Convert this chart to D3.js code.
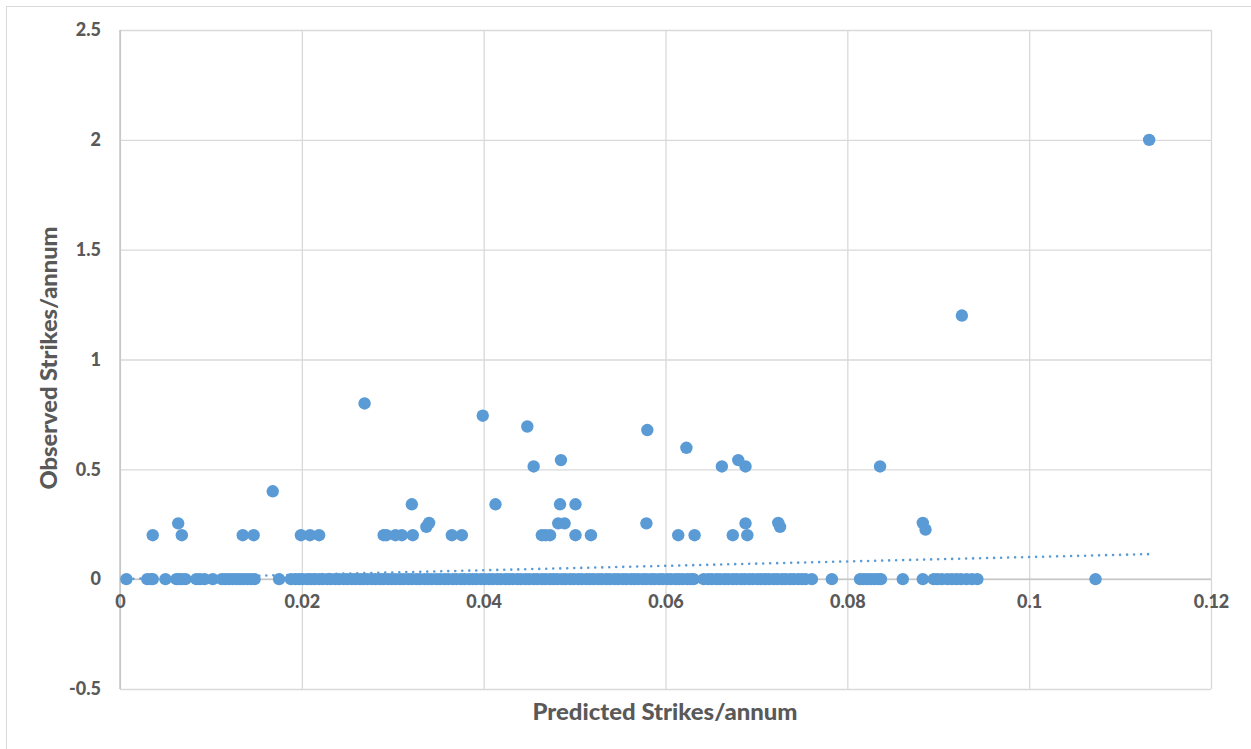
<!DOCTYPE html>
<html>
<head>
<meta charset="utf-8">
<script src="https://cdn.jsdelivr.net/npm/d3@7"></script>
<style>
  html, body { margin: 0; padding: 0; background: #ffffff; }
  svg { display: block; }
  text { font-family: Lato, "Open Sans", sans-serif; font-weight: bold; fill: #595959; }
</style>
</head>
<body>
<svg id="chart" width="1251" height="749"></svg>
<script>
// ---- Data ----
// Points with a non-zero observed value
const predictedNonZero = [
  0.0036, 0.0064, 0.0068, 0.0135, 0.0147, 0.0168, 0.0199, 0.0209, 0.0219,
  0.0269, 0.0290, 0.0293, 0.0303, 0.0310, 0.0322, 0.0321, 0.0337, 0.0340,
  0.0365, 0.0376, 0.0399, 0.0413, 0.0448, 0.0455, 0.0464, 0.0468, 0.0473,
  0.0482, 0.0484, 0.0485, 0.0489, 0.0501, 0.0501, 0.0518, 0.0579, 0.0580,
  0.0614, 0.0623, 0.0632, 0.0662, 0.0674, 0.0680, 0.0688, 0.0688, 0.0690,
  0.0724, 0.0726, 0.0836, 0.0883, 0.0886, 0.0926, 0.1132
];
const observedNonZero = [
  0.20, 0.254, 0.20, 0.20, 0.20, 0.40, 0.20, 0.20, 0.20,
  0.80, 0.20, 0.20, 0.20, 0.20, 0.20, 0.341, 0.238, 0.256,
  0.20, 0.20, 0.744, 0.341, 0.695, 0.513, 0.20, 0.20, 0.20,
  0.254, 0.341, 0.542, 0.254, 0.341, 0.20, 0.20, 0.254, 0.679,
  0.20, 0.598, 0.20, 0.513, 0.20, 0.542, 0.513, 0.254, 0.20,
  0.256, 0.238, 0.513, 0.256, 0.226, 1.20, 2.00
];
// Predicted values of the points whose observed value is 0
const predictedZero = [
  0.0007, 0.0030, 0.0034, 0.0036, 0.0050, 0.0062, 0.0065, 0.0068, 0.0072,
  0.0084, 0.0088, 0.0093, 0.0102, 0.0112, 0.0116, 0.0120, 0.0124, 0.0128,
  0.0132, 0.0136, 0.0140, 0.0144, 0.0148, 0.0175,
  0.0188, 0.0193, 0.0197, 0.0201, 0.0206, 0.0210, 0.0214, 0.0219, 0.0223,
  0.0228, 0.0232, 0.0237, 0.0241, 0.0246, 0.0250, 0.0255, 0.0259, 0.0264,
  0.0268, 0.0272, 0.0277, 0.0281, 0.0286, 0.0290, 0.0295, 0.0299, 0.0303,
  0.0308, 0.0312, 0.0317, 0.0321, 0.0326, 0.0330, 0.0335, 0.0339, 0.0343,
  0.0348, 0.0352, 0.0357, 0.0361, 0.0366, 0.0370, 0.0375, 0.0379, 0.0384,
  0.0388, 0.0392, 0.0397, 0.0401, 0.0406, 0.0410, 0.0415, 0.0419, 0.0424,
  0.0428, 0.0432, 0.0437, 0.0441, 0.0446, 0.0450, 0.0455, 0.0459, 0.0464,
  0.0468, 0.0473, 0.0477, 0.0481, 0.0486, 0.0490, 0.0495, 0.0499, 0.0504,
  0.0508, 0.0513, 0.0517, 0.0521, 0.0526, 0.0530, 0.0535, 0.0539, 0.0544,
  0.0548, 0.0553, 0.0557, 0.0562, 0.0566, 0.0570, 0.0575, 0.0579, 0.0584,
  0.0588, 0.0593, 0.0597, 0.0602, 0.0606, 0.0611, 0.0615, 0.0619, 0.0624,
  0.0628, 0.0631,
  0.0642, 0.0647, 0.0651, 0.0656, 0.0660, 0.0665, 0.0669, 0.0674, 0.0678,
  0.0683, 0.0687, 0.0692, 0.0696, 0.0701, 0.0705, 0.0710, 0.0714, 0.0719,
  0.0723, 0.0728, 0.0732, 0.0737, 0.0741, 0.0746, 0.0750, 0.0754,
  0.0761, 0.0783,
  0.0814, 0.0818, 0.0822, 0.0826, 0.0830, 0.0834, 0.0837,
  0.0861, 0.0883, 0.0895, 0.0899, 0.0904, 0.0910, 0.0915, 0.0920, 0.0925,
  0.0931, 0.0937, 0.0943, 0.1073
];
// Linear trendline
const trendX = [0.0007, 0.1132];
const trendY = [0.0012, 0.1140];

const xTicks = [0, 0.02, 0.04, 0.06, 0.08, 0.1, 0.12];
const xTickLabels = ["0", "0.02", "0.04", "0.06", "0.08", "0.1", "0.12"];
const yTicks = [-0.5, 0, 0.5, 1, 1.5, 2, 2.5];
const yTickLabels = ["-0.5", "0", "0.5", "1", "1.5", "2", "2.5"];
const xTitle = "Predicted Strikes/annum";
const yTitle = "Observed Strikes/annum";

// ---- Layout ----
const plot = { left: 120, right: 1211, top: 30, bottom: 689 };
const color = "#5b9bd5";
const gridColor = "#d9d9d9";
const textColor = "#595959";

const svg = d3.select("#chart");

// outer chart border
svg.append("rect")
  .attr("x", 6.5).attr("y", 6.5)
  .attr("width", 1260).attr("height", 760)
  .attr("fill", "none").attr("stroke", "#d9d9d9").attr("stroke-width", 1);

const x = d3.scaleLinear().domain([0, 0.12]).range([plot.left, plot.right]);
const y = d3.scaleLinear().domain([-0.5, 2.5]).range([plot.bottom, plot.top]);

// gridlines (vertical)
const gx = svg.append("g")
  .attr("transform", `translate(0,${plot.bottom})`)
  .call(d3.axisBottom(x).tickValues(xTicks).tickSize(-(plot.bottom - plot.top)).tickFormat(""));
gx.select(".domain").remove();
gx.selectAll("line").attr("stroke", gridColor).attr("stroke-width", 1.3);

// gridlines (horizontal)
const gy = svg.append("g")
  .attr("transform", `translate(${plot.left},0)`)
  .call(d3.axisLeft(y).tickValues(yTicks).tickSize(-(plot.right - plot.left)).tickFormat(""));
gy.select(".domain").remove();
gy.selectAll("line").attr("stroke", gridColor).attr("stroke-width", 1.3);

// axis lines (crossing at 0)
svg.append("line")
  .attr("x1", x(0)).attr("x2", x(0)).attr("y1", plot.top).attr("y2", plot.bottom)
  .attr("stroke", "#bfbfbf").attr("stroke-width", 1.3);
svg.append("line")
  .attr("x1", plot.left).attr("x2", plot.right).attr("y1", y(0)).attr("y2", y(0))
  .attr("stroke", "#bfbfbf").attr("stroke-width", 1.3);

// y tick labels
const yLab = svg.append("g")
  .attr("transform", `translate(${plot.left - 16},0)`)
  .call(d3.axisLeft(y).tickValues(yTicks).tickSize(0)
        .tickFormat((d) => yTickLabels[yTicks.indexOf(d)]));
yLab.select(".domain").remove();
yLab.selectAll("text")
  .style("font-family", "Lato, 'Open Sans', sans-serif")
  .style("font-weight", "900").style("font-size", "18px").attr("fill", textColor);

// x tick labels (below the horizontal axis at y=0)
const xLab = svg.append("g")
  .attr("transform", `translate(0,${y(0) + 13})`)
  .call(d3.axisBottom(x).tickValues(xTicks).tickSize(0)
        .tickFormat((d) => xTickLabels[xTicks.indexOf(d)]));
xLab.select(".domain").remove();
xLab.selectAll("text")
  .style("font-family", "Lato, 'Open Sans', sans-serif")
  .style("font-weight", "900").style("font-size", "18px").attr("fill", textColor);

// points: observed 0
svg.append("g").selectAll("circle.z")
  .data(predictedZero)
  .join("circle")
  .attr("class", "z")
  .attr("cx", d => x(d)).attr("cy", y(0)).attr("r", 6.2)
  .attr("fill", color);

// points: observed non-zero
svg.append("g").selectAll("circle.nz")
  .data(predictedNonZero.map((d, i) => [d, observedNonZero[i]]))
  .join("circle")
  .attr("class", "nz")
  .attr("cx", d => x(d[0])).attr("cy", d => y(d[1])).attr("r", 6.2)
  .attr("fill", color);

// trendline (dotted)
svg.append("path")
  .datum(trendX.map((d, i) => [d, trendY[i]]))
  .attr("d", d3.line().x(d => x(d[0])).y(d => y(d[1])))
  .attr("fill", "none").attr("stroke", color)
  .attr("stroke-width", 2.6).attr("stroke-linecap", "round")
  .attr("stroke-dasharray", "0 7");

// axis titles
svg.append("text")
  .attr("x", 665).attr("y", 720)
  .attr("text-anchor", "middle")
  .style("font-size", "23px").style("font-weight", "900")
  .attr("textLength", 265).attr("lengthAdjust", "spacingAndGlyphs")
  .text(xTitle);

svg.append("text")
  .attr("transform", "translate(57,358) rotate(-90)")
  .attr("text-anchor", "middle")
  .style("font-size", "23px").style("font-weight", "900")
  .attr("textLength", 263).attr("lengthAdjust", "spacingAndGlyphs")
  .text(yTitle);
</script>
</body>
</html>
